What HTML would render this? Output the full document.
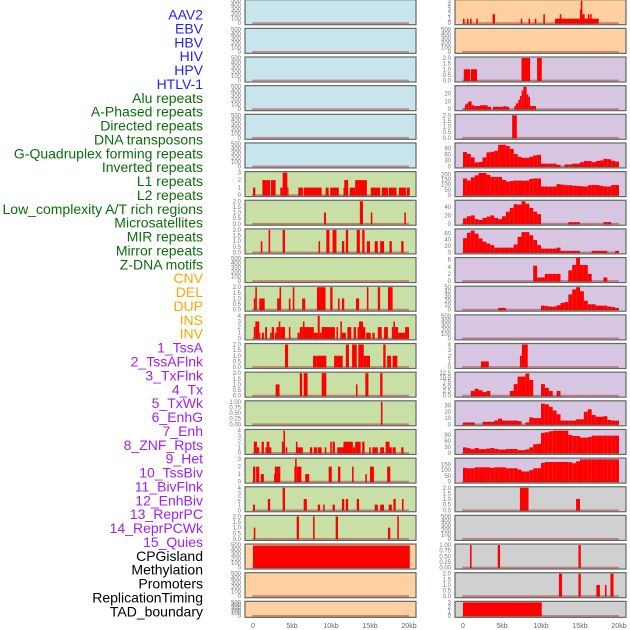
<!DOCTYPE html>
<html><head><meta charset="utf-8"><style>
html,body{margin:0;padding:0;background:#fff;}
svg{display:block;font-family:"Liberation Sans",sans-serif;}
</style></head><body>
<svg id="chart" width="630" height="630" viewBox="0 0 630 630" xmlns="http://www.w3.org/2000/svg"></svg>
<script>
const labelNames = ["AAV2","EBV","HBV","HIV","HPV","HTLV-1","Alu repeats","A-Phased repeats","Directed repeats","DNA transposons","G-Quadruplex forming repeats","Inverted repeats","L1 repeats","L2 repeats","Low_complexity A/T rich regions","Microsatellites","MIR repeats","Mirror repeats","Z-DNA motifs","CNV","DEL","DUP","INS","INV","1_TssA","2_TssAFlnk","3_TxFlnk","4_Tx","5_TxWk","6_EnhG","7_Enh","8_ZNF_Rpts","9_Het","10_TssBiv","11_BivFlnk","12_EnhBiv","13_ReprPC","14_ReprPCWk","15_Quies","CPGisland","Methylation","Promoters","ReplicationTiming","TAD_boundary"];
const labelGroups = [6,13,5,15,5];
const groupColors = ["#1f1fff","#0a6e0a","#ffa500","#a020f0","#000000"];
const xTickKb = [0,5,10,15,20];
const xTickLabels = ["0","5kb","10kb","15kb","20kb"];

const T500 = ["0","100","200","300","400","500"];
const T2 = ["0.0","0.5","1.0","1.5","2.0"];
const T1 = ["0.00","0.25","0.50","0.75","1.00"];
const T3 = ["0","1","2","3"];
const T4 = ["0","1","2","3","4"];
const T5 = ["0","1","2","3","4","5"];

// segment tracks: [startKb, endKb, value]
const segL6 = [[0,0.3,1],[1.2,2.2,2],[2.3,2.9,2],[3.5,3.8,1],[3.8,4.4,3],[4.4,4.5,1],[5.8,6.4,1],[6.5,8.8,1],[9.3,9.7,1],[9.9,11.0,1],[11.6,11.7,1],[11.7,12.2,2],[12.4,13.1,1],[13.1,14.6,2],[15.1,16.3,1],[16.5,17.3,1],[17.4,18.4,1],[18.7,19.6,1],[19.7,20.1,1]];
const segL7 = [[9.1,9.35,1],[13.7,14.1,2],[15.1,15.3,1],[19.4,19.6,1]];
const segL8 = [[1.0,1.2,1],[2.0,2.2,2],[3.8,4.1,2],[8.4,8.6,1],[9.4,9.8,2],[10.2,10.7,2],[11.4,11.7,1],[11.9,12.2,2],[13.3,13.7,2],[14.0,14.3,2],[14.6,15.0,1],[15.6,16.0,1],[16.3,16.8,1],[17.5,17.8,1],[19.0,19.3,1]];
const segL10 = [[0.1,0.3,1],[0.3,0.5,2],[0.8,1.5,1],[3.1,3.4,1],[3.4,3.6,2],[4.6,4.8,1],[5.1,5.3,2],[6.3,6.7,1],[8.2,9.3,2],[9.9,10.2,2],[10.9,11.1,1],[11.4,11.7,1],[13.2,13.6,1],[14.6,14.8,2],[16.0,16.3,2],[17.3,17.9,2]];
const segL11 = [[0.1,0.3,2],[0.3,0.8,3],[0.8,0.9,1],[1.15,1.4,1],[1.55,1.8,2],[2.2,2.4,1],[2.4,2.7,2],[2.8,3.0,1],[3.0,3.3,2],[3.3,3.5,3],[3.5,4.1,2],[4.6,4.8,2],[5.7,6.0,1],[6.0,6.4,2],[6.4,6.6,3],[6.6,7.8,2],[7.8,8.3,1],[8.3,8.55,4],[8.55,8.8,1],[8.8,10.5,2],[10.7,10.9,2],[11.2,11.4,3],[11.4,11.9,1],[12.1,12.6,2],[12.9,13.2,2],[13.4,13.6,2],[13.6,14.1,3],[14.1,14.4,2],[14.5,15.1,1],[15.3,15.6,1],[16.0,16.5,2],[16.8,17.3,2],[17.8,18.0,2],[18.0,18.2,3],[18.2,18.6,2],[18.6,19.5,1],[19.5,20.0,2]];
const segL12 = [[4.1,4.5,2],[7.7,8.1,1],[8.1,9.4,1],[10.4,10.7,1],[10.7,11.5,1],[11.9,12.3,2],[12.7,13.3,2],[13.5,14.2,2],[14.2,14.5,1],[14.5,15.0,1],[16.7,17.0,2],[17.2,17.7,1],[17.9,18.5,1]];
const segL13 = [[2.9,3.4,1],[6.0,6.3,2],[6.5,7.0,2],[8.8,9.4,2],[13.2,13.4,1],[14.4,14.8,2],[16.3,16.6,2]];
const segL14 = [[16.4,16.6,1]];
const segL15 = [[0.1,0.5,2],[0.5,0.8,1],[1.1,1.4,2],[1.6,1.75,1],[1.75,2.1,2],[2.1,2.35,1],[3.7,3.9,2],[3.9,4.1,4],[4.2,4.4,1],[5.5,5.7,2],[5.7,6.2,1],[6.2,6.4,1],[7.3,7.6,1],[7.8,8.2,1],[8.3,8.8,1],[9.2,9.4,1],[9.9,10.1,2],[10.2,10.5,2],[10.8,11.6,1],[11.6,12.8,2],[12.8,13.1,1],[13.1,13.8,2],[14.0,14.3,2],[14.9,15.1,1],[15.3,16.0,1],[16.3,16.8,1],[17.0,17.5,2],[17.5,17.8,1],[17.9,18.3,1],[19.0,19.3,1]];
const segL16 = [[0,0.3,2],[0.4,0.8,2],[1.0,1.4,1],[2.7,2.8,1],[2.8,3.5,2],[5.3,5.4,2],[5.4,5.6,3],[5.6,6.2,2],[6.7,7.2,1],[9.7,10.1,2],[10.9,11.2,2],[12.7,12.9,2],[14.4,14.6,1],[15.0,15.5,2],[17.2,17.6,2]];
const segL17 = [[0,0.25,1],[1.9,2.2,2],[3.8,4.1,4],[6.5,6.9,2],[8.3,8.6,1],[9.0,9.2,1],[10.2,10.5,1],[11.4,11.7,2],[11.9,12.2,2],[13.3,13.6,2],[15.6,16.0,1],[16.3,16.8,1],[17.4,17.8,1],[18.0,18.3,2],[19.1,19.3,2]];
const segL18 = [[0.1,0.3,1],[5.6,5.9,2],[7.7,7.9,2],[10.6,10.9,2],[17.3,17.6,1],[18.5,18.7,2]];
const segL19 = [[0,20.1,490]];
const segR0 = [[0,0.2,1],[0.5,0.7,1],[0.9,1.1,1],[1.7,1.9,1],[3.8,4.1,2],[7.4,7.6,1],[8.4,8.6,1],[9.2,9.4,1],[10.3,10.5,2],[11.8,17.4,1],[12.4,12.6,2],[15.0,15.1,3],[15.1,15.3,5],[15.3,15.6,2],[16.0,16.2,2],[16.3,16.5,2]];
const segR2 = [[0.1,0.9,1],[1.0,1.8,1],[7.5,8.6,2],[9.5,10.1,2]];
const segR3 = [[0.05,0.25,1],[0.25,0.47,6],[0.47,0.68,7.5],[0.68,1.11,10],[1.11,1.45,5],[1.45,2.18,4],[2.18,3.16,5],[3.16,3.59,3],[3.85,5.17,3],[5.17,5.51,4],[5.51,5.94,3],[6.58,6.8,4],[6.8,7.09,7.5],[7.09,7.31,12],[7.31,7.52,17],[7.52,7.74,24],[7.74,8.16,29],[8.16,8.38,19],[8.38,8.59,16],[8.59,9.36,4]];
const segR4 = [[6.3,6.9,2]];
const segR12 = [[2.3,3.3,1],[7.3,7.55,2],[7.55,8.3,4]];
const segR17 = [[7.3,8.4,2],[14.5,15.0,1]];
const segR19 = [[0.9,1.1,1],[4.45,4.75,1],[14.8,15.1,1]];
const segR20 = [[12.3,12.7,2],[14.8,15.1,2],[17.1,17.55,1],[18.2,18.4,1],[18.9,19.3,2]];
const segR21 = [[0,10.1,3]];
// binned tracks: 40 bins of 0.5kb
const binR5 = [72,62,45,20,22,45,70,73,78,108,108,102,88,62,48,43,43,48,55,58,14,14,14,14,8,0,10,10,14,14,21,27,27,21,27,30,38,36,28,24];
const binR6 = [160,140,170,190,212,212,195,175,175,175,145,130,135,140,140,138,140,155,160,160,82,82,82,82,105,100,95,95,90,88,85,82,95,97,97,88,82,82,97,97];
const binR7 = [13,18,20,11,9,14,17,20,14,11,18,29,38,47,46,54,48,38,29,23,0,0,0,0,0,0,0,4,4,4,0,0,0,0,0,0,4,4,0,0];
const binR8 = [45,62,69,59,44,34,28,23,15,15,15,15,15,25,49,64,64,54,39,23,12,12,12,12,15,5,5,5,5,5,0,0,0,5,5,5,5,0,0,5];
const binR9 = [0,0,0,0,0,0,0,0,0,0,0,0,0,0,0,0,0,0,4.3,1,1,2,2,2,2,0,0,3,4.5,6.5,4.5,4.5,2,0,0,0,1,0,0,0];
const binR10 = [0,0,0,0,0,0,0,0,0,4,4,0,0,0,0,0,0,0,0,0,9,8,7,7,10,15,17,34,45,50,41,20,12,12,9,9,9,7,6,4];
const binR13 = [0,0,2.6,3.8,3,2,2.6,0,0,0,0,0,2.6,6.4,10.6,10.6,12.3,8.7,0,0,6.4,4.3,2.6,0,2.6,0,0,0,0,0,0,0,0,0,0,0,0,0,0,0];
const binR14 = [3,3,3,0,0,4,4,4,6,9,6,6,6,6,5,0,3,11,10,10,33,32,28,22,16,6,6,6,6,8,8,20,24,15,12,12,13,7,6,6];
const binR15 = [28,24,19,25,19,19,22,25,20,17,17,20,20,20,14,14,18,28,44,46,101,104,109,112,112,112,112,90,85,85,77,77,80,87,87,87,87,87,87,87];
const binR16 = [120,117,117,125,125,125,125,120,125,125,125,117,117,117,105,89,89,100,117,117,164,172,172,172,172,172,172,170,161,178,195,195,195,195,195,195,195,195,195,195];

const BG = {b:"#c8e4ec",g:"#c8e0a6",o:"#ffd0a0",p:"#d6c6e2",k:"#d0d0d0"};
// [col,row,bg,ticks,ymax,segs,bins]
const panels = [
 [0,0,"b",T500,500,null,null],[0,1,"b",T500,500,null,null],[0,2,"b",T500,500,null,null],[0,3,"b",T500,500,null,null],[0,4,"b",T500,500,null,null],[0,5,"b",T500,500,null,null],
 [0,6,"g",T3,3,segL6,null],[0,7,"g",T2,2,segL7,null],[0,8,"g",T2,2,segL8,null],[0,9,"g",T500,500,null,null],[0,10,"g",T2,2,segL10,null],[0,11,"g",T4,4,segL11,null],
 [0,12,"g",T2,2,segL12,null],[0,13,"g",T2,2,segL13,null],[0,14,"g",T1,1,segL14,null],[0,15,"g",T4,4,segL15,null],[0,16,"g",T3,3,segL16,null],[0,17,"g",T4,4,segL17,null],[0,18,"g",T2,2,segL18,null],
 [0,19,"o",T500,500,segL19,null],[0,20,"o",T500,500,null,null],[0,21,"o",T500,500,null,null],
 [1,0,"o",T5,5,segR0,null],[1,1,"o",T500,500,null,null],[1,2,"p",T2,2,segR2,null],[1,3,"p",["0","10","20"],29,segR3,null],[1,4,"p",T2,2,segR4,null],
 [1,5,"p",["0","30","60","90"],112,null,binR5],[1,6,"p",["0","50","100","150","200"],216,null,binR6],[1,7,"p",["0","20","40"],54,null,binR7],[1,8,"p",["0","20","40","60"],71,null,binR8],
 [1,9,"p",["0","2","4","6"],6.3,null,binR9],[1,10,"p",["0","10","20","30","40","50"],50,null,binR10],[1,11,"p",T500,500,null,null],[1,12,"p",T4,4,segR12,null],
 [1,13,"p",["0.0","2.5","5.0","7.5","10.0","12.5"],12.5,null,binR13],[1,14,"p",["0","10","20","30"],36,null,binR14],[1,15,"p",["0","30","60","90"],113,null,binR15],[1,16,"p",["0","50","100","150"],197,null,binR16],
 [1,17,"k",T2,2,segR17,null],[1,18,"k",T500,500,null,null],[1,19,"k",T1,1,segR19,null],[1,20,"k",T2,2,segR20,null],[1,21,"k",T3,3,segR21,null]
];

const NS="http://www.w3.org/2000/svg";
const svg=document.getElementById('chart');
function mk(tag,attrs,parent){const e=document.createElementNS(NS,tag);for(const k in attrs)e.setAttribute(k,attrs[k]);(parent||svg).appendChild(e);return e;}

// labels
let li=0;
labelGroups.forEach((n,g)=>{for(let j=0;j<n;j++){
  const t=mk('text',{x:203,y:14.5+13.88*li,'text-anchor':'end','dominant-baseline':'central','font-size':'14',fill:groupColors[g]});
  
  
  t.textContent=labelNames[li];li++;}});

const colX=[245,455], colZero=[253,463], pxPerKb=7.8, boxW=171;
function xs(col,kb){return colZero[col]+kb*pxPerKb;}
panels.forEach((p,idx)=>{
  const [col,row,bg,ticks,ymax,segs,bins]=p;
  const T=28.65*row-0.3, H=row===21?16:25;
  const yZero=T+H-1.5, span=H-2.5;
  const ys=v=>yZero-(v/ymax)*span;
  const g=mk('g',{});
  
  
  const r=mk('rect',{x:colX[col],y:T,width:boxW,height:H,fill:BG[bg],stroke:'#5f6a66','stroke-width':1.2},g);
  
  
  const drawBar=(a,b,v)=>{if(v<=0)return;const y=ys(v);
    const e=mk('rect',{x:xs(col,a),y:y,width:Math.max(xs(col,b)-xs(col,a),1.2),height:yZero-y+0.5,fill:'#ff0000'},g);
    
    };
  if(segs)segs.forEach(s=>drawBar(s[0],s[1],s[2]));
  if(bins)bins.forEach((v,i)=>drawBar(i*0.5,(i+1)*0.5,v));
  const bl=mk('line',{x1:xs(col,-0.1),x2:xs(col,20),y1:yZero,y2:yZero,stroke:'rgba(170,30,30,0.45)','stroke-width':1.8},g);
  
  
  const n=ticks.length, topVal=parseFloat(ticks[n-1]);
  ticks.forEach((tl)=>{const v=parseFloat(tl);
    const t=mk('text',{x:colX[col]-4,y:ys(v)+2,'text-anchor':'end','font-size':'6',fill:'#777'},g);
    
    
    t.textContent=tl;});
});
[0,1].forEach(col=>{xTickKb.forEach((k,i)=>{
  const t=mk('text',{x:xs(col,k),y:628,'text-anchor':'middle','font-size':'7',fill:'#666'});
  
  
  t.textContent=xTickLabels[i];});});
</script>
</body></html>
